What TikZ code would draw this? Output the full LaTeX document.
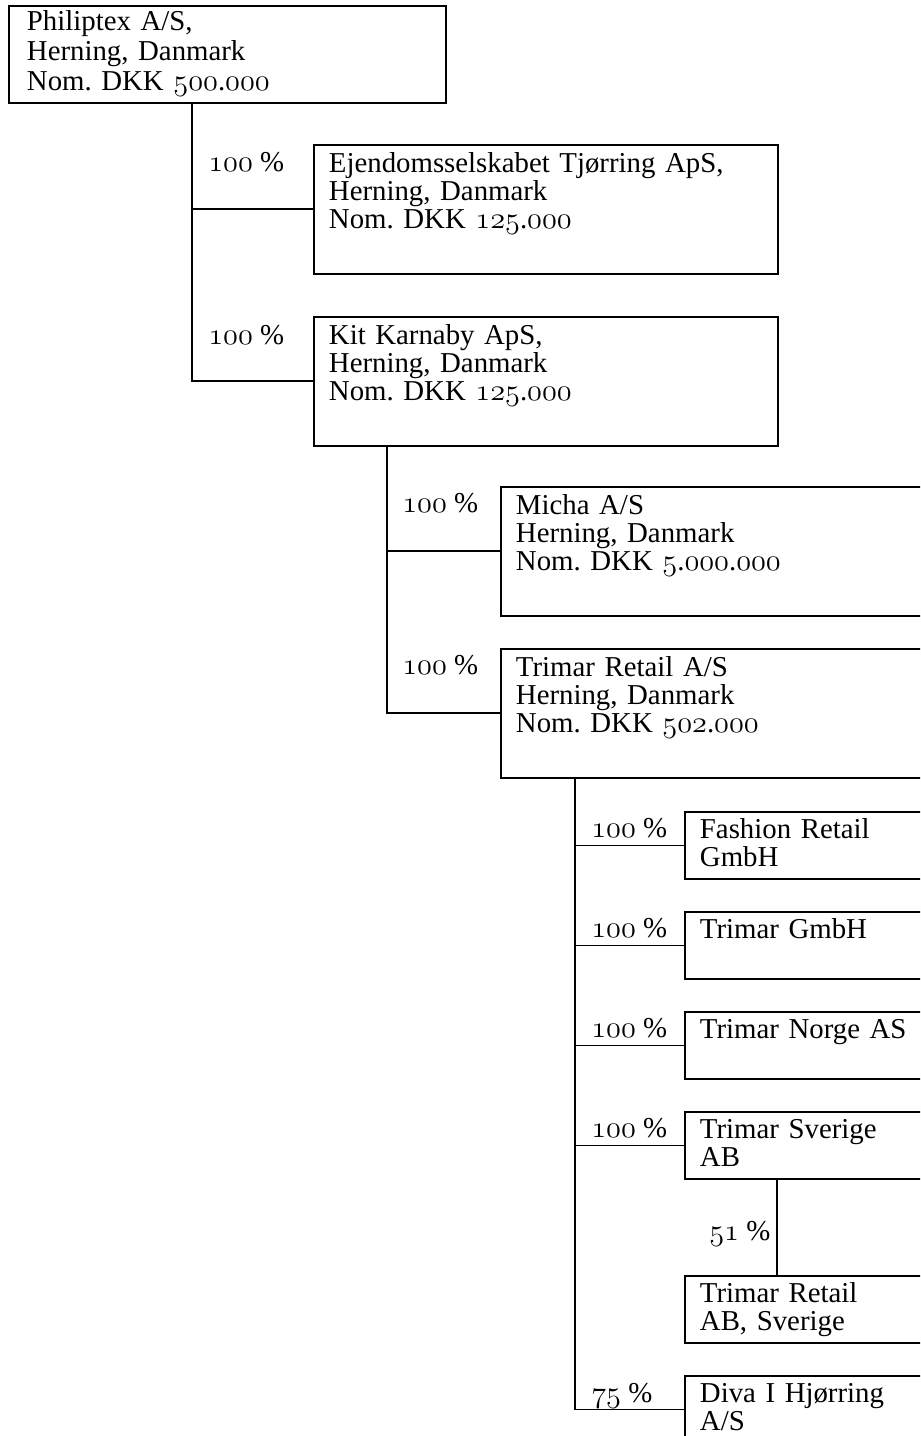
\documentclass[tikz,border=0pt]{standalone}
\usepackage{fontspec}
\setmainfont{Liberation Serif}
\usetikzlibrary{positioning}
\frenchspacing
\newcommand{\tal}[1]{{\usefont{OML}{cmm}{m}{it}#1}}
\newcommand{\firmafont}{\fontsize{16.4}{15.9}\selectfont}
\tikzset{
  selskab/.style={draw, line width=1.1pt, anchor=north west, align=left,
                  inner xsep=0.3cm, inner ysep=0pt, font=\firmafont},
  stor/.style={selskab, text width=8.68cm, text height=0.55cm, text depth=2.03cm},
  lille/.style={selskab, text width=4.6cm, text height=0.53cm, text depth=0.81cm},
  ejer/.style={anchor=base west, inner sep=0pt, font=\firmafont},
  link/.style={line width=1.1pt},
}
\begin{document}
\begin{tikzpicture}[x=0.02cm, y=-0.02cm]
  \useasboundingbox (0,0) rectangle (920,1436);
  \clip (0,0) rectangle (920,1436);

  % moderselskab
  \node[selskab, inner xsep=0.36cm, text width=8.02cm, text height=0.5cm,
        text depth=1.44cm, font=\fontsize{16.4}{17.07}\selectfont]
    (philip) at (8,5) {Philiptex A/S,\\Herning, Danmark\\Nom. DKK \tal{500}.\tal{000}};

  % 1. niveau
  \node[stor] (ejendom) at (313,144)
    {Ejendomsselskabet Tj\o rring ApS,\\Herning, Danmark\\Nom. DKK \tal{125}.\tal{000}};
  \node[stor] (kit) at (313,316)
    {Kit Karnaby ApS,\\Herning, Danmark\\Nom. DKK \tal{125}.\tal{000}};
  \node[ejer] (pEjendom) at (208,172) {\tal{100} \%};
  \node[ejer] (pKit) at (208,344) {\tal{100} \%};
  \draw[link] (philip.south west) ++(184,0) |- (ejendom.west);
  \draw[link] (philip.south west) ++(184,0) |- (kit.west);

  % 2. niveau
  \node[stor] (micha) at (500,486)
    {Micha A/S\\Herning, Danmark\\Nom. DKK \tal{5}.\tal{000}.\tal{000}};
  \node[stor] (trimar) at (500,648)
    {Trimar Retail A/S\\Herning, Danmark\\Nom. DKK \tal{502}.\tal{000}};
  \node[ejer] (pMicha) at (402,512) {\tal{100} \%};
  \node[ejer] (pTrimar) at (402,674) {\tal{100} \%};
  \draw[link] (kit.south west) ++(74,0) |- (micha.west);
  \draw[link] (kit.south west) ++(74,0) |- (trimar.west);

  % 3. niveau
  \node[lille] (fashion) at (684,811) {Fashion Retail\\GmbH};
  \node[lille] (gmbh) at (684,911) {Trimar GmbH};
  \node[lille] (norge) at (684,1011) {Trimar Norge AS};
  \node[lille] (sverige) at (684,1111) {Trimar Sverige\\AB};
  \node[lille] (retailab) at (684,1275) {Trimar Retail\\AB, Sverige};
  \node[lille] (diva) at (684,1375) {Diva I Hj\o rring\\A/S};
  \foreach \n/\y in {pFashion/837, pGmbh/937, pNorge/1037, pSverige/1137}
    \node[ejer] (\n) at (591,\y) {\tal{100} \%};
  \node[ejer] (pDiva) at (591,1402) {\tal{75} \%};
  \node[ejer] (pRetailab) at (709,1240) {\tal{51} \%};
  \foreach \b in {fashion, gmbh, norge, sverige, diva}
    \draw[link] (trimar.south west) ++(75,0) |- (\b.west);
  \draw[link] ([xshift=1.86cm]sverige.south west) -- ([xshift=1.86cm]retailab.north west);
\end{tikzpicture}
\end{document}
